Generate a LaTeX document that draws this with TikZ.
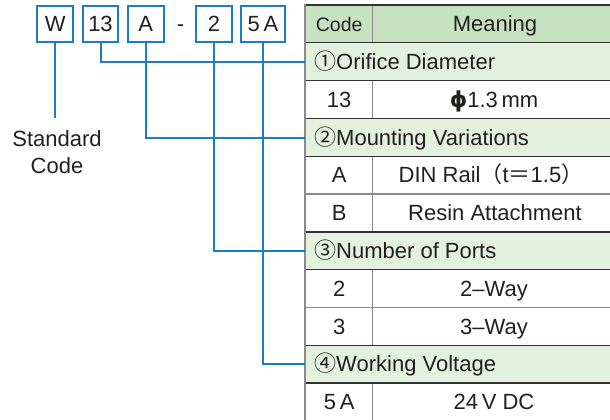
\documentclass[tikz,border=0pt]{standalone}
\usepackage{fontspec}
\setmainfont{Liberation Sans}
\newfontfamily\cjk{Noto Sans CJK JP}
\newfontfamily\dvs{DejaVu Sans}
\definecolor{blu}{HTML}{1E7BC6}
\definecolor{txt}{HTML}{231F1F}
\definecolor{hdrgreen}{HTML}{C6E2C1}
\definecolor{secgreen}{HTML}{E3F1DF}
\definecolor{rule}{HTML}{333333}
\definecolor{grayrule}{HTML}{8A8A8A}
\begin{document}
\begin{tikzpicture}[x=1pt,y=-1pt,
  every node/.style={font=\fontsize{22}{26}\selectfont, text=txt, inner sep=0pt},
  cell/.style={text height=15.5pt, text depth=0pt},
  codebox/.style={draw=blu, line width=2pt, minimum height=36.5pt, text height=15.5pt, text depth=0pt},
  conn/.style={draw=blu, line width=2pt},
  hdrrow/.style={fill=hdrgreen, minimum width=305pt, minimum height=37.8pt, anchor=north west},
  secrow/.style={fill=secgreen, minimum width=305pt, minimum height=37.8pt, anchor=north west},
  darkrule/.style={draw=rule, line width=1.4pt},
  lightrule/.style={draw=grayrule, line width=1.2pt},
  colrule/.style={draw=grayrule, line width=1.5pt}
]
\useasboundingbox (0,0) rectangle (610,420);

% ---------- code boxes ----------
\node[codebox, minimum width=36pt] (bW) at (55.3,24) {W};
\node[codebox, minimum width=35.6pt] (b13) at (100.5,24) {13};
\node[codebox, minimum width=36.3pt] (bA) at (145.8,24) {A};
\node[cell] (dash) at (180.5,24) {-};
\node[codebox, minimum width=36.3pt] (b2) at (214.1,24) {2};
\node[codebox, minimum width=44pt] (b5A) at (263,24) {5\,A};

\node[align=center, font=\fontsize{22}{27.5}\selectfont] (std) at (57,152) {Standard\\Code};

% ---------- table fills ----------
\node[hdrrow] (hdr) at (305,5) {};
\node[secrow] (s1) at (305,42.8) {};
\node[secrow] (s2) at (305,118.4) {};
\node[secrow] (s3) at (305,231.8) {};
\node[secrow] (s4) at (305,345.2) {};

% ---------- rules ----------
\draw[colrule] (372.7,5) -- (372.7,42.8);
\draw[colrule] (372.7,80.6) -- (372.7,118.4);
\draw[colrule] (372.7,156.2) -- (372.7,231.8);
\draw[colrule] (372.7,269.6) -- (372.7,345.2);
\draw[colrule] (372.7,383) -- (372.7,420);

\draw[draw=rule, line width=2pt] (305,5) -- (610,5);
\foreach \yy in {42.8,80.6,118.4,156.2,231.8,269.6,345.2,383}
  \draw[darkrule] (305,\yy) -- (610,\yy);
\foreach \yy in {194,307.4}
  \draw[lightrule] (305,\yy) -- (610,\yy);
\draw[draw=grayrule, line width=2pt] (305,4) -- (305,420);

% ---------- table text ----------
\node[cell, font=\fontsize{19.5}{23}\selectfont] (hcode) at (339.2,23.9) {Code};
\node[cell] (hmean) at (495,23.9) {Meaning};

\node[cell, anchor=west] (t1) at (314,61.7) {{\cjk ①}Orifice Diameter};
\node[cell] (c13) at (339.2,99.5) {13};
\node[cell] (m13) at (494,99.5) {{\dvs\bfseries ϕ}1.3\,mm};

\node[cell, anchor=west] (t2) at (314,137.3) {{\cjk ②}Mounting Variations};
\node[cell] (cA) at (339.2,175.1) {A};
\node[cell] (mA) at (491,175.1) {DIN Rail{\cjk （}t{\cjk ＝}1.5{\cjk ）}};
\node[cell] (cB) at (339.2,212.9) {B};
\node[cell] (mB) at (495,212.9) {Resin Attachment};

\node[cell, anchor=west] (t3) at (314,250.7) {{\cjk ③}Number of Ports};
\node[cell] (c2) at (339.2,288.5) {2};
\node[cell] (m2) at (494,288.5) {2–Way};
\node[cell] (c3) at (339.2,326.3) {3};
\node[cell] (m3) at (494,326.3) {3–Way};

\node[cell, anchor=west] (t4) at (314,364.1) {{\cjk ④}Working Voltage};
\node[cell] (c5A) at (339.2,401.9) {5\,A};
\node[cell] (m5A) at (494,401.9) {24\,V DC};

% ---------- connectors ----------
\coordinate (stdtop) at (55.3,118);
\draw[conn] (bW.south) -- (stdtop);
\draw[conn] (b13.south) |- (s1.west);
\draw[conn] (bA.south) |- (s2.west);
\draw[conn] (b2.south) |- (s3.west);
\draw[conn] (b5A.south) |- (s4.west);
\end{tikzpicture}
\end{document}
